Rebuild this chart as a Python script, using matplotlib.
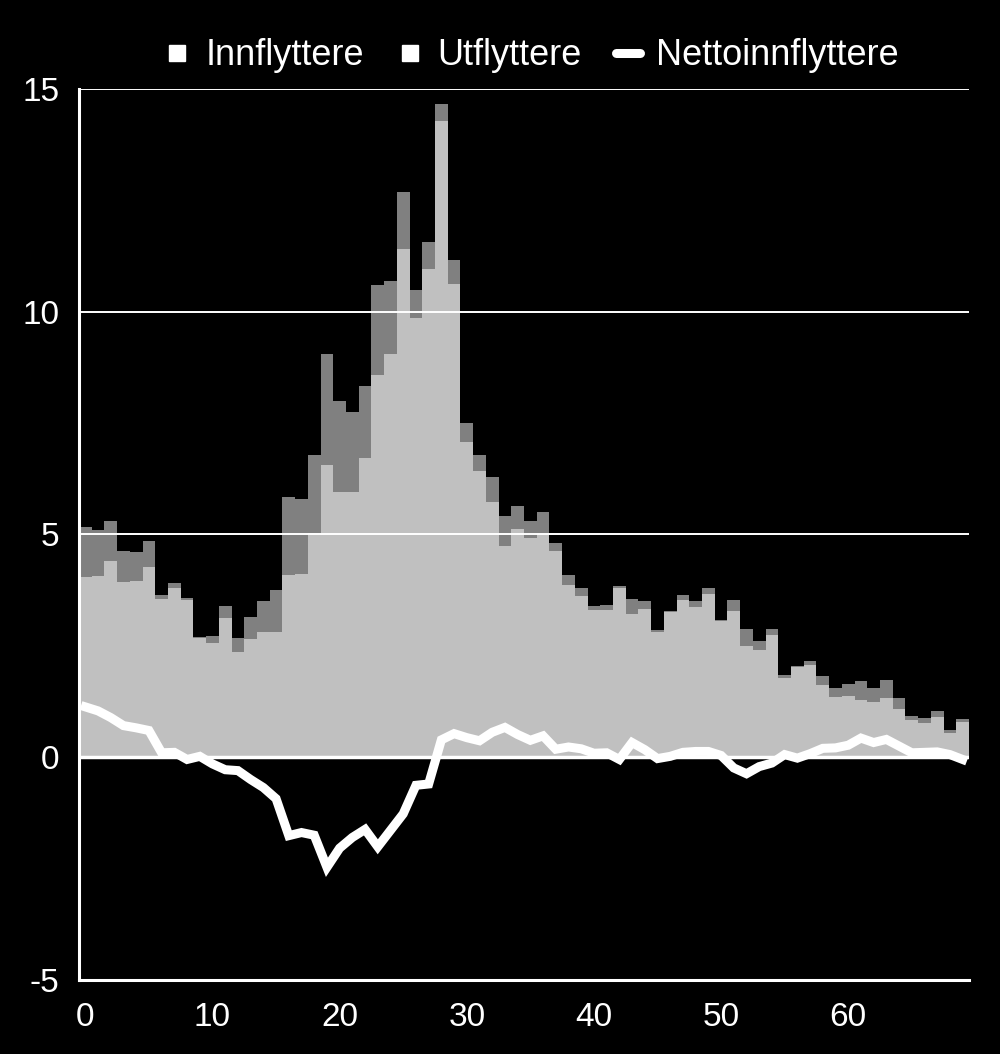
import numpy as np
import matplotlib
matplotlib.use("Agg")
import matplotlib.pyplot as plt
from matplotlib.lines import Line2D

plt.rcParams['font.family'] = ['Liberation Sans', 'DejaVu Sans']
plt.rcParams['axes.unicode_minus'] = False

# alder 0-69, prosent
alder = np.arange(70)
innflyttere = [5.17, 5.10, 5.30, 4.64, 4.61, 4.86, 3.65, 3.92, 3.52, 2.70,
               2.57, 3.12, 2.37, 2.65, 2.82, 2.82, 4.08, 4.11, 5.04, 6.57,
               5.96, 5.96, 6.72, 8.59, 9.06, 11.41, 9.85, 10.96, 14.66, 11.15,
               7.51, 6.79, 6.29, 5.41, 5.64, 5.30, 5.50, 4.80, 4.09, 3.80,
               3.40, 3.41, 3.80, 3.55, 3.50, 2.82, 3.28, 3.64, 3.50, 3.80,
               3.09, 3.28, 2.50, 2.40, 2.74, 1.84, 2.02, 2.15, 1.82, 1.56,
               1.65, 1.71, 1.56, 1.73, 1.33, 0.93, 0.87, 1.03, 0.61, 0.80]
utflyttere = [4.04, 4.06, 4.41, 3.93, 3.95, 4.26, 3.55, 3.81, 3.57, 2.68,
              2.72, 3.40, 2.67, 3.15, 3.50, 3.75, 5.84, 5.80, 6.79, 9.04,
              8.00, 7.76, 8.34, 10.60, 10.70, 12.68, 10.48, 11.56, 14.27, 10.62,
              7.07, 6.42, 5.73, 4.74, 5.13, 4.92, 5.02, 4.62, 3.86, 3.61,
              3.31, 3.31, 3.85, 3.22, 3.33, 2.85, 3.26, 3.53, 3.37, 3.67,
              3.05, 3.52, 2.87, 2.61, 2.87, 1.78, 2.04, 2.07, 1.62, 1.35,
              1.38, 1.28, 1.23, 1.33, 1.08, 0.83, 0.76, 0.91, 0.55, 0.85]

inn = np.array(innflyttere)
ut = np.array(utflyttere)
netto = inn - ut

fig = plt.figure(figsize=(10, 10.54), dpi=100, facecolor='black')
ax = fig.add_axes([0.079, 0.0702, 0.89, 0.8454], facecolor='black')

ax.bar(alder, np.maximum(inn, ut), width=1.0, color='#808080', linewidth=0, zorder=1)
ax.bar(alder, np.minimum(inn, ut), width=1.0, color='#c0c0c0', linewidth=0, zorder=1.1)
for y in [5, 10, 15]:
    ax.axhline(y, color='white', lw=1.4, zorder=2)
ax.axhline(0, color='white', lw=2.5, zorder=2)
ax.plot(alder, netto, color='white', lw=6.5, solid_joinstyle='miter', zorder=4)

ax.set_xlim(-0.5, 69.5)
ax.set_ylim(-5, 15)
ax.set_xticks([0, 10, 20, 30, 40, 50, 60])
ax.set_yticks([-5, 0, 5, 10, 15])
ax.tick_params(colors='white', labelsize=24, length=0)
ax.tick_params(axis='y', pad=14)
ax.tick_params(axis='x', pad=16)
for s in ['top', 'right']:
    ax.spines[s].set_visible(False)
for s in ['left', 'bottom']:
    ax.spines[s].set_color('white')
    ax.spines[s].set_linewidth(2.2)

handles = [
    Line2D([], [], marker='s', color='none', markerfacecolor='white', markeredgecolor='white', markersize=11),
    Line2D([], [], marker='s', color='none', markerfacecolor='white', markeredgecolor='white', markersize=11),
    Line2D([], [], color='white', lw=6.5, solid_capstyle='round'),
]
leg = fig.legend(handles, ['Innflyttere', 'Utflyttere', 'Nettoinnflyttere'],
                 loc='center', bbox_to_anchor=(0.532, 0.947), ncol=3, frameon=False,
                 fontsize=26, handlelength=0.65, handletextpad=0.45, columnspacing=0.95)
for t in leg.get_texts():
    t.set_color('white')

fig.savefig('out.png', dpi=100, facecolor='black')
